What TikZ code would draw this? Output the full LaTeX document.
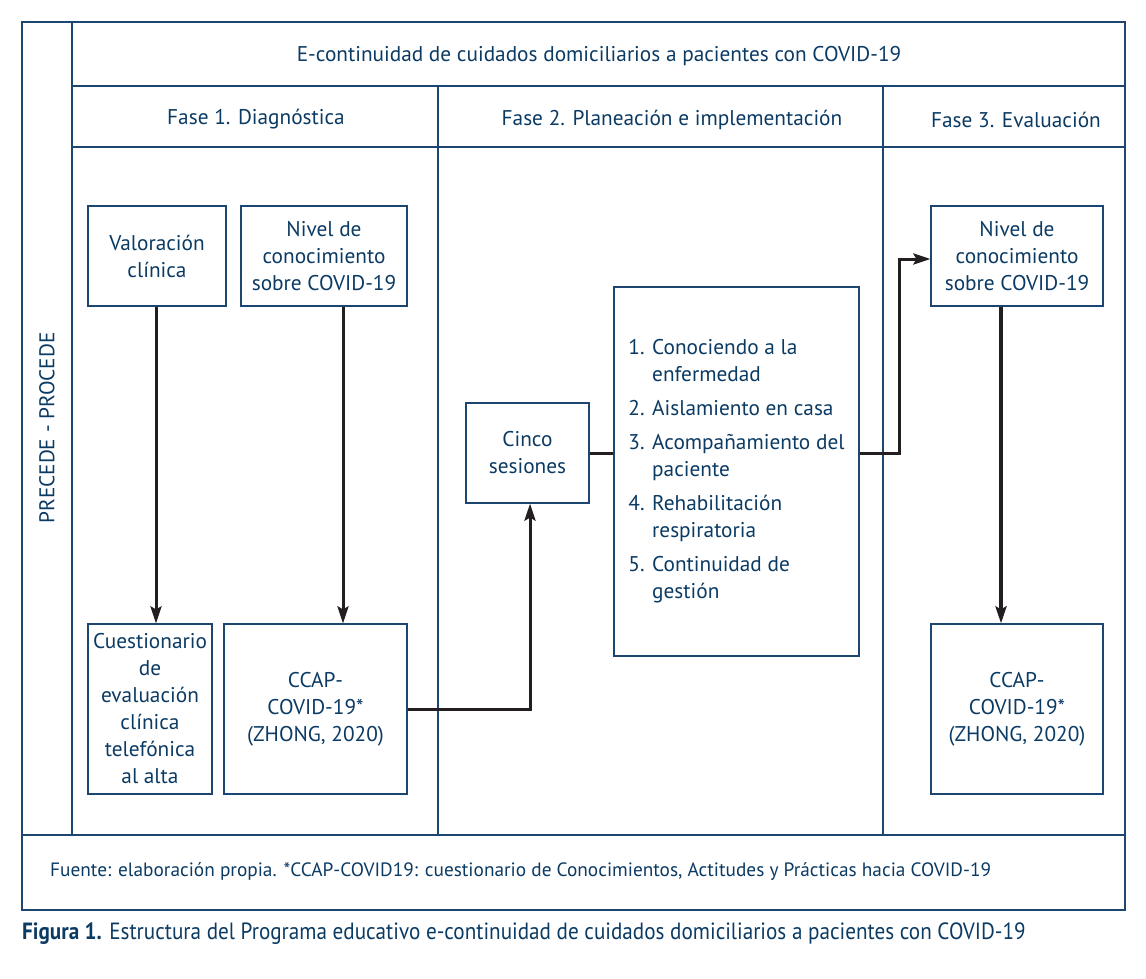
\documentclass[tikz,border=0pt]{standalone}
\usepackage{fontspec}
\setmainfont{PT Sans}
\newfontfamily\capfont[FakeStretch=0.9]{PT Sans}
\usetikzlibrary{arrows.meta,calc}
\definecolor{navy}{HTML}{0B3A63}
\definecolor{linec}{HTML}{1C4670}
\definecolor{arrc}{HTML}{231F20}
\begin{document}
\begin{tikzpicture}[x=1pt,y=-1pt,
  frame/.style={draw=linec,line width=1.2pt},
  box/.style={draw=linec,line width=1.2pt,inner sep=0pt,align=center,text=navy,font=\fontsize{21.3}{27}\selectfont},
  lab/.style={text=navy,inner sep=0pt,font=\fontsize{21.3}{24}\selectfont},
  arr/.style={draw=arrc,line width=3pt,-{Stealth[length=17pt,width=11pt,inset=3pt]}},
  conn/.style={draw=arrc,line width=3pt}]
\useasboundingbox (0,0) rectangle (1146,978);
% frame
\draw[frame] (22,22) rectangle (1125,910);
\draw[frame] (72,22) -- (72,835);
\draw[frame] (72,86) -- (1125,86);
\draw[frame] (72,147) -- (1125,147);
\draw[frame] (22,835) -- (1125,835);
\draw[frame] (438,86) -- (438,835);
\draw[frame] (883,86) -- (883,835);
% headers
\node[lab] (title) at (599,56) {E-continuidad de cuidados domiciliarios a pacientes con COVID-19};
\node[lab] (f1) at (256,119.5) {Fase 1. Diagnóstica};
\node[lab] (f2) at (672,119.5) {Fase 2. Planeación e implementación};
\node[lab] (f3) at (1016,119.5) {Fase 3. Evaluación};
\node[lab,rotate=90] (pp) at (47,428) {PRECEDE - PROCEDE};
% boxes
\node[box,minimum width=138pt,minimum height=100pt] (val) at (157,256) {Valoración\\clínica};
\node[box,minimum width=166pt,minimum height=100pt] (niv1) at (324,256) {Nivel de\\conocimiento\\sobre COVID-19};
\node[box,minimum width=124pt,minimum height=170pt] (cue) at (150,709) {Cuestionario\\de\\evaluación\\clínica\\telefónica\\al alta};
\node[box,minimum width=183pt,minimum height=170pt] (ccap1) at (315.5,709) {CCAP-\\COVID-19*\\(ZHONG, 2020)};
\node[box,minimum width=123pt,minimum height=100pt] (cinco) at (527.5,453) {Cinco\\sesiones};
\node[box,minimum width=245pt,minimum height=369pt] (list) at (736.5,471.5) {\begin{tabular}{@{}l@{ }l@{}}
1. & Conociendo a la\\ & enfermedad\\[7pt]
2. & Aislamiento en casa\\[7pt]
3. & Acompañamiento del\\ & paciente\\[7pt]
4. & Rehabilitación\\ & respiratoria\\[7pt]
5. & Continuidad de\\ & gestión
\end{tabular}};
\node[box,minimum width=172pt,minimum height=100pt] (niv3) at (1017,256) {Nivel de\\conocimiento\\sobre COVID-19};
\node[box,minimum width=172pt,minimum height=170pt] (ccap3) at (1017,709) {CCAP-\\COVID-19*\\(ZHONG, 2020)};
% connectors
\draw[arr] ([xshift=-1pt]val.south) -- ([xshift=-1pt]val.south |- cue.north);
\draw[arr] ([xshift=19pt]niv1.south) -- ([xshift=19pt]niv1.south |- ccap1.north);
\draw[arr] (ccap1.east) -| ([xshift=2.5pt]cinco.south);
\draw[conn] (cinco.east) -- (cinco.east -| list.west);
\draw[arr] (cinco.east -| list.east) -- ++(40,0) |- ([yshift=-3pt]niv3.west);
\draw[arr,line width=3.8pt] ([xshift=-16pt]niv3.south) -- ([xshift=-16pt]niv3.south |- ccap3.north);
% footnote and caption
\node[anchor=west,text=navy,inner sep=0pt,font=\fontsize{19.3}{22}\selectfont] (fn) at (50,872) {Fuente: elaboración propia. *CCAP-COVID19: cuestionario de Conocimientos, Actitudes y Prácticas hacia COVID-19};
\node[anchor=west,text=navy,inner sep=0pt,font=\capfont\fontsize{23.5}{26}\selectfont] (cap) at (22,934) {\textbf{Figura 1.} Estructura del Programa educativo e-continuidad de cuidados domiciliarios a pacientes con COVID-19};
\end{tikzpicture}
\end{document}
